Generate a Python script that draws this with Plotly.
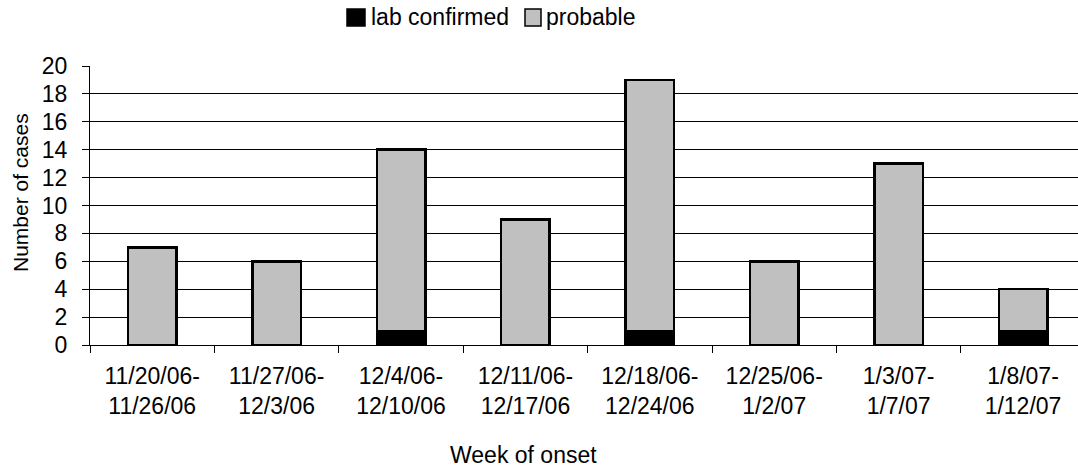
import plotly.graph_objects as go

# Weekly case counts by week of illness onset
weeks = [
    "11/20/06-<br>11/26/06",
    "11/27/06-<br>12/3/06",
    "12/4/06-<br>12/10/06",
    "12/11/06-<br>12/17/06",
    "12/18/06-<br>12/24/06",
    "12/25/06-<br>1/2/07",
    "1/3/07-<br>1/7/07",
    "1/8/07-<br>1/12/07",
]
lab_confirmed = [0, 0, 1, 0, 1, 0, 0, 1]
probable = [7, 6, 13, 9, 18, 6, 13, 3]
y_ticks = list(range(0, 21, 2))

FONT = "Liberation Sans, Arial, sans-serif"
FS = 23
W, H = 1078, 472
ML, MT, MB, MR = 90, 66, 127, 0
PW, PH = W - ML - MR, H - MT - MB


def px_x(px):
    return (px - ML) / PW


def px_y(py):
    return (H - MB - py) / PH


fig = go.Figure()
fig.add_trace(go.Bar(
    x=weeks,
    y=[v if v else None for v in lab_confirmed],
    name="lab confirmed",
    marker=dict(color="#000000", line=dict(color="#000000", width=2.5)),
))
fig.add_trace(go.Bar(
    x=weeks,
    y=[v if v else None for v in probable],
    name="probable",
    marker=dict(color="#C0C0C0", line=dict(color="#000000", width=2.5)),
))

# Legend drawn as swatches + labels across the top
legend_items = [
    ("#000000", 347, 365, "lab confirmed", 369),
    ("#C0C0C0", 525, 541, "probable", 544),
]
shapes = []
annotations = []
for color, x0, x1, label, tx in legend_items:
    shapes.append(dict(
        type="rect", xref="paper", yref="paper",
        x0=px_x(x0), x1=px_x(x1), y0=px_y(26), y1=px_y(9),
        fillcolor=color, line=dict(color="#000000", width=1.5),
    ))
    annotations.append(dict(
        text=label, xref="paper", yref="paper",
        x=px_x(tx), y=px_y(17), xanchor="left", yanchor="middle",
        showarrow=False, font=dict(family=FONT, size=FS, color="#000"),
    ))

annotations.append(dict(
    text="Week of onset", xref="paper", yref="paper",
    x=px_x(523), y=px_y(455), xanchor="center", yanchor="middle",
    showarrow=False, font=dict(family=FONT, size=FS, color="#000"),
))
annotations.append(dict(
    text="Number of cases", xref="paper", yref="paper",
    x=px_x(20), y=px_y(193), xanchor="center", yanchor="middle",
    textangle=-90, showarrow=False,
    font=dict(family=FONT, size=21, color="#000"),
))

fig.update_layout(
    width=W, height=H,
    margin=dict(l=ML, r=MR, t=MT, b=MB, pad=0),
    barmode="stack",
    bargap=0.61,
    showlegend=False,
    plot_bgcolor="#FFFFFF",
    paper_bgcolor="#FFFFFF",
    font=dict(family=FONT, size=FS, color="#000"),
    shapes=shapes,
    annotations=annotations,
)
fig.update_xaxes(
    type="category",
    range=[-0.5, 7.442],
    showline=True, linecolor="#000", linewidth=1,
    ticks="outside", ticklen=7, tickcolor="#000", tickwidth=1,
    tickson="boundaries",
    ticklabelstandoff=10,
    showgrid=False,
    tickfont=dict(family=FONT, size=FS, color="#000"),
)
fig.update_yaxes(
    range=[0, 20],
    tickvals=y_ticks,
    showline=True, linecolor="#000", linewidth=1,
    ticks="outside", ticklen=7, tickcolor="#000", tickwidth=1,
    ticklabelstandoff=10,
    showgrid=True, gridcolor="#000", gridwidth=1,
    zeroline=False,
    tickfont=dict(family=FONT, size=FS, color="#000"),
)

fig.write_html("out.html")
